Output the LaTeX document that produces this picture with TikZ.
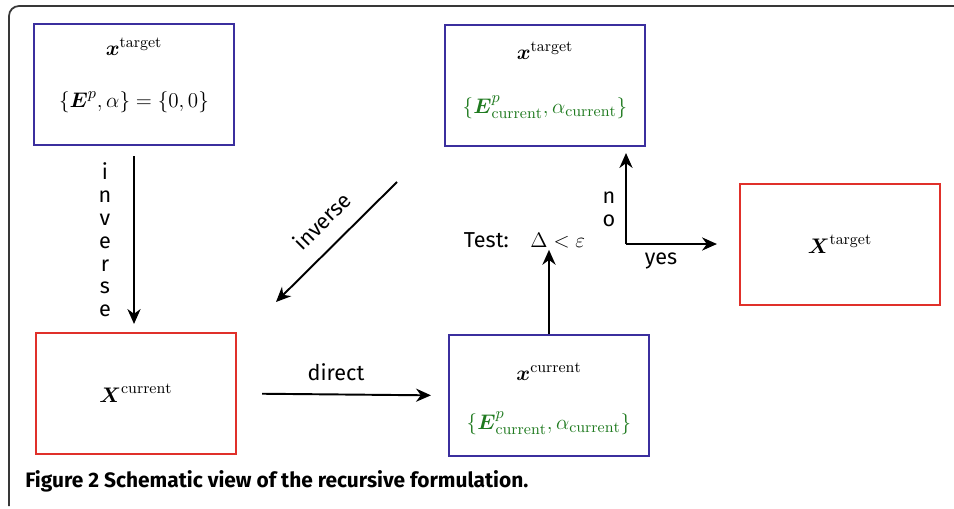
\documentclass[tikz,border=0pt]{standalone}
\usepackage{amsmath}
\usepackage{fontspec}
\setsansfont{Fira Sans}
\usepackage{xcolor}
\usepackage{tikz}
\usetikzlibrary{arrows.meta, positioning, calc}
\definecolor{boxblue}{HTML}{3B2F9E}
\definecolor{boxred}{HTML}{E0302A}
\definecolor{eqgreen}{HTML}{1F7A1F}
\definecolor{framegray}{HTML}{383838}

\begin{document}
\begin{tikzpicture}[
    >={Stealth[length=8.5pt, width=7.5pt]},
    vbox/.style={draw=boxblue, line width=1.2pt, minimum width=4cm, minimum height=2.42cm, inner sep=0pt},
    rbox/.style={draw=boxred, line width=1.2pt, minimum width=4cm, minimum height=2.42cm, inner sep=0pt, font=\fontsize{12.6}{15}\selectfont},
    eq/.style={font=\fontsize{12.6}{15}\selectfont, inner sep=1pt},
    lbl/.style={font=\sffamily\fontsize{12.3}{13}\selectfont, inner sep=1pt},
    flow/.style={->, line width=1.1pt}]

  \useasboundingbox (0,0) rectangle (19.08,-10.16);
  \draw[framegray, line width=1pt] (0.18,-10.12) -- (0.18,-0.32) arc[start angle=180, end angle=90, radius=0.2] -- (19.08,-0.12);

  % Parameter sets (blue) and fields (red).
  \node[vbox] (b1) at (2.68,-1.69) {};
  \node[eq] (b1t) at ([yshift=0.76cm]b1.center) {$\boldsymbol{x}^{\mathrm{target}}$};
  \node[eq] (b1e) at ([yshift=-0.36cm]b1.center) {$\{\boldsymbol{E}^p,\alpha\}=\{0,0\}$};

  \node[vbox] (b2) at (10.90,-1.71) {};
  \node[eq] (b2t) at ([yshift=0.70cm]b2.center) {$\boldsymbol{x}^{\mathrm{target}}$};
  \node[eq, text=eqgreen] (b2e) at ([yshift=-0.44cm]b2.center) {$\{\boldsymbol{E}^p_{\mathrm{current}},\alpha_{\mathrm{current}}\}$};

  \node[rbox] (b3) at (16.80,-4.89) {$\boldsymbol{X}^{\mathrm{target}}$};
  \node[rbox] (b4) at (2.72,-7.87) {$\boldsymbol{X}^{\mathrm{current}}$};

  \node[vbox] (b5) at (10.98,-7.91) {};
  \node[eq] (b5t) at ([yshift=0.48cm]b5.center) {$\boldsymbol{x}^{\mathrm{current}}$};
  \node[eq, text=eqgreen] (b5e) at ([yshift=-0.56cm]b5.center) {$\{\boldsymbol{E}^p_{\mathrm{current}},\alpha_{\mathrm{current}}\}$};

  % Loop arrows.
  \draw[flow, shorten <=0.2cm, shorten >=0.16cm] (b1.south) -- (b1.south |- b4.north);
  \node[lbl, align=center] (inv1) at (2.10,-4.80) {i\\n\\v\\e\\r\\s\\e};

  \coordinate (d1) at (7.94,-3.64);
  \coordinate (d2) at (5.52,-6.04);
  \draw[flow] (d1) -- (d2);
  \node[lbl, rotate=45] (inv2) at (6.44,-4.42) {inverse};

  \draw[flow, shorten <=0.5cm, shorten >=0.34cm] (b4.east) -- (b5.west);
  \node[lbl] (dir) at (6.72,-7.44) {direct};

  \node[lbl] (test) at (10.49,-4.80) {Test:\quad$\Delta<\varepsilon$};
  \draw[flow] (b5.north) -- (b5.north |- test.south);

  \coordinate (c) at (12.52,-4.88);
  \draw[flow, shorten >=0.12cm] (c) -- (c |- b2.south);
  \draw[flow, shorten >=0.44cm] (c) -- (b3.west |- c);
  \node[lbl, align=center] (no) at (12.18,-4.18) {n\\o};
  \node[lbl] (yes) at (13.22,-5.22) {yes};

  \node[font=\sffamily\bfseries\fontsize{11.9}{13}\selectfont, anchor=west, inner sep=0pt] (cap) at (0.50,-9.62) {Figure 2 Schematic view of the recursive formulation.};
\end{tikzpicture}
\end{document}
